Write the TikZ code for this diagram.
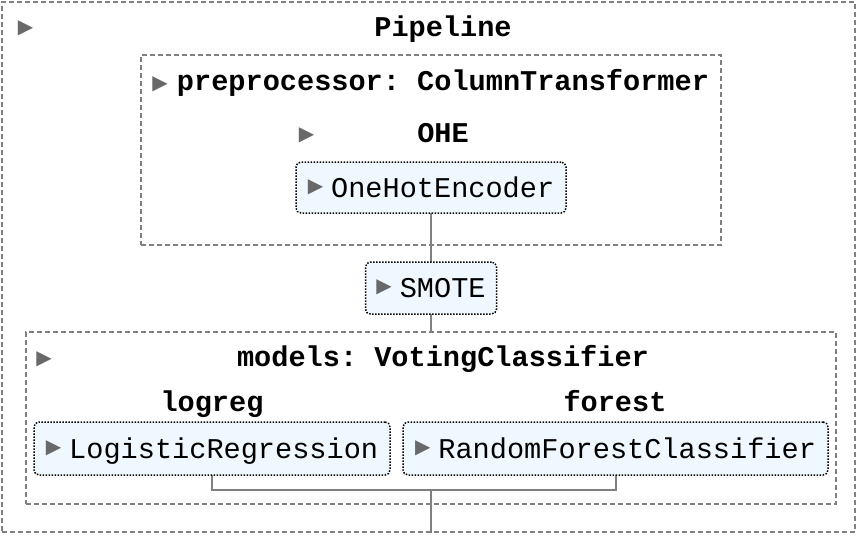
\documentclass[tikz,border=0pt]{standalone}
\usepackage{fontspec}
\setmainfont{Liberation Mono}
\newfontfamily\symfont{DejaVu Sans}
\definecolor{boxfill}{HTML}{F0F8FF}
\definecolor{dashgray}{HTML}{808080}
\definecolor{trigray}{HTML}{696969}
\newcommand{\trig}{{\color{trigray}\symfont\fontsize{20}{20}\selectfont ▶}}
\newcommand{\tri}{\raisebox{5pt}{\trig}}
\frenchspacing
\begin{document}
\begin{tikzpicture}[x=1pt,y=-1pt,font=\fontsize{28.6}{34}\selectfont,
  container/.style={draw=dashgray, dash pattern=on 5pt off 3pt, line width=1.5pt, inner sep=0pt, rectangle},
  estimator/.style={draw=black, line width=1.5pt, dash pattern=on 1.5pt off 1.5pt, rounded corners=5pt, fill=boxfill, inner sep=0pt, text height=19pt, text depth=0pt},
  lbl/.style={font=\fontsize{28.6}{34}\selectfont\bfseries, anchor=base, inner sep=0pt},
  trinode/.style={inner sep=0pt, anchor=center},
  conn/.style={draw=dashgray, line width=2pt}]
\useasboundingbox (0,0) rectangle (862,538);
% containers
\node[container, minimum width=853pt, minimum height=530pt] (pipe) at (428.5,267) {};
\node[container, minimum width=580pt, minimum height=190pt] (prep) at (431,150) {};
\node[container, minimum width=810pt, minimum height=172pt] (models) at (431,418) {};
% labels
\node[trinode] (tpipe) at (25.5,28) {\trig};
\node[lbl] (lpipe) at (443,36) {Pipeline};
\node[trinode] (tprep) at (160,84) {\trig};
\node[lbl] (lprep) at (443,90) {preprocessor: ColumnTransformer};
\node[trinode] (tohe) at (306.5,135.5) {\trig};
\node[lbl] (lohe) at (443,142) {OHE};
\node[trinode] (tmod) at (44,359) {\trig};
\node[lbl] (lmod) at (443,366) {models: VotingClassifier};
\node[lbl] (llr) at (212,411) {logreg};
\node[lbl] (lrf) at (615,411) {forest};
% estimator positions
\coordinate (cohe) at (431,187.5);
\coordinate (csmote) at (431,288);
\coordinate (clr) at (212,448.5);
\coordinate (crf) at (615.5,448.5);
% connectors (drawn first, boxes cover ends)
\coordinate (join) at (431,490);
\draw[conn] (cohe) -- (csmote);
\draw[conn] (csmote) -- (csmote |- models.north);
\draw[conn] (clr) |- (join) -| (crf);
\draw[conn] (join) -- (join |- pipe.south);
% estimators
\node[estimator, minimum width=270pt, minimum height=51pt] (ohe) at (cohe) {\tri\hspace{8pt}OneHotEncoder};
\node[estimator, minimum width=131pt, minimum height=52pt] (smote) at (csmote) {\tri\hspace{8pt}SMOTE};
\node[estimator, minimum width=356pt, minimum height=53pt] (lr) at (clr) {\tri\hspace{8pt}LogisticRegression};
\node[estimator, minimum width=425pt, minimum height=53pt] (rf) at (crf) {\tri\hspace{8pt}RandomForestClassifier};
\end{tikzpicture}
\end{document}
